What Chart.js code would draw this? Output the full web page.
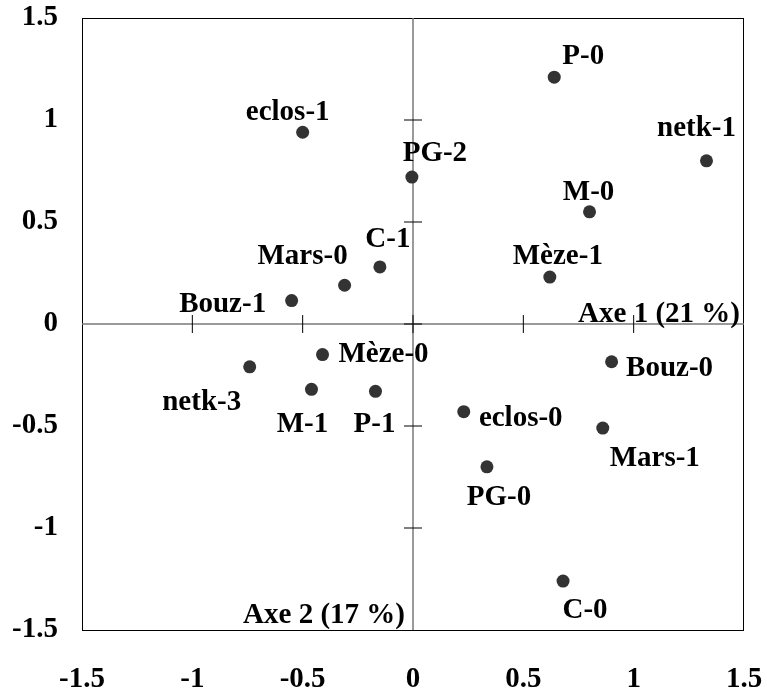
<!DOCTYPE html>
<html>
<head>
<meta charset="utf-8">
<script src="https://cdn.jsdelivr.net/npm/chart.js@4.4.0/dist/chart.umd.min.js"></script>
<style>
  html, body { margin: 0; padding: 0; background: #fff; }
</style>
</head>
<body>
<canvas id="acp" width="767" height="691"></canvas>
<script>
var noms = ['P-0', 'netk-1', 'eclos-1', 'PG-2', 'M-0', 'C-1', 'Mars-0', 'Mèze-1', 'Bouz-1',
            'netk-3', 'Mèze-0', 'M-1', 'P-1', 'Bouz-0', 'eclos-0', 'Mars-1', 'PG-0', 'C-0'];
var axe1 = [0.64, 1.33, -0.50, -0.005, 0.80, -0.15, -0.31, 0.62, -0.55,
            -0.74, -0.41, -0.46, -0.17, 0.90, 0.23, 0.86, 0.335, 0.68];
var axe2 = [1.21, 0.80, 0.94, 0.72, 0.55, 0.28, 0.19, 0.23, 0.115,
            -0.21, -0.15, -0.32, -0.33, -0.185, -0.43, -0.51, -0.70, -1.26];
var graduations = [-1.5, -1, -0.5, 0, 0.5, 1, 1.5];
var titreAxe1 = 'Axe 1 (21 %)';
var titreAxe2 = 'Axe 2 (17 %)';

// placement des etiquettes : decalage en px depuis le point (centre du texte, ligne de base)
var decalages = {
  'P-0': [29, -13], 'netk-1': [-10, -25], 'eclos-1': [-15, -12], 'PG-2': [23, -16],
  'M-0': [-1, -12], 'C-1': [8, -20], 'Mars-0': [-42, -21], 'Mèze-1': [8, -13],
  'Bouz-1': [-69, 11], 'netk-3': [-48, 43], 'Mèze-0': [61, 7], 'M-1': [-9, 43],
  'P-1': [-1, 41], 'Bouz-0': [58, 14], 'eclos-0': [57, 14], 'Mars-1': [52, 38],
  'PG-0': [12, 38], 'C-0': [22, 37]
};

var police = 'bold 29px "Liberation Serif", "Times New Roman", serif';
var policeTicks = { family: '"Liberation Serif", serif', size: 29, weight: 'bold' };

var points = axe1.map(function (v, i) { return { x: v, y: axe2[i] }; });

var axesCentraux = {
  id: 'axesCentraux',
  beforeDatasetsDraw: function (chart) {
    var ctx = chart.ctx, a = chart.chartArea;
    var sx = chart.scales.x, sy = chart.scales.y;
    var x0 = sx.getPixelForValue(0), y0 = sy.getPixelForValue(0);
    ctx.save();
    // cadre
    ctx.strokeStyle = '#000';
    ctx.lineWidth = 1;
    ctx.strokeRect(a.left + 0.5, a.top + 0.5, a.right - a.left - 1, a.bottom - a.top);
    // axes passant par 0
    ctx.strokeStyle = '#7a7a7a';
    ctx.lineWidth = 1.5;
    ctx.beginPath();
    ctx.moveTo(a.left, y0); ctx.lineTo(a.right, y0);
    ctx.moveTo(x0, a.top); ctx.lineTo(x0, a.bottom);
    ctx.stroke();
    // graduations
    ctx.strokeStyle = '#000';
    ctx.lineWidth = 1;
    ctx.beginPath();
    graduations.forEach(function (g) {
      if (Math.abs(g) >= 1.5) return;
      var px = sx.getPixelForValue(g), py = sy.getPixelForValue(g);
      ctx.moveTo(px, y0 - 9); ctx.lineTo(px, y0 + 9);
      ctx.moveTo(x0 - 9, py); ctx.lineTo(x0 + 9, py);
    });
    ctx.stroke();
    // titres des axes
    ctx.font = police;
    ctx.fillStyle = '#000';
    ctx.textBaseline = 'alphabetic';
    ctx.textAlign = 'right';
    ctx.fillText(titreAxe1, a.right - 4, y0 - 2);
    ctx.fillText(titreAxe2, x0 - 8, a.bottom - 7);
    ctx.restore();
  },
  afterDatasetsDraw: function (chart) {
    var ctx = chart.ctx;
    var meta = chart.getDatasetMeta(0);
    ctx.save();
    ctx.font = police;
    ctx.fillStyle = '#000';
    ctx.textAlign = 'center';
    ctx.textBaseline = 'alphabetic';
    meta.data.forEach(function (el, i) {
      var d = decalages[noms[i]] || [0, -12];
      ctx.fillText(noms[i], el.x + d[0], el.y + d[1]);
    });
    ctx.restore();
  }
};

function fixerGraduations(s) {
  s.ticks = graduations.map(function (v) { return { value: v }; });
}
function texteGraduation(v) { return String(v); }

var ctx = document.getElementById('acp').getContext('2d');
var graphe = new Chart(ctx, {
  type: 'scatter',
  data: {
    labels: noms,
    datasets: [{
      data: points,
      backgroundColor: '#333333',
      borderWidth: 0,
      pointRadius: 6.5,
      pointHoverRadius: 6.5
    }]
  },
  options: {
    responsive: false,
    devicePixelRatio: 1,
    animation: false,
    layout: { padding: { left: 0, right: 23, top: 18, bottom: 0 } },
    plugins: {
      legend: { display: false },
      tooltip: { enabled: false }
    },
    scales: {
      x: {
        type: 'linear',
        min: -1.5,
        max: 1.5,
        afterBuildTicks: fixerGraduations,
        afterFit: function (s) { s.height = 61; s.paddingLeft = 0; s.paddingRight = 0; },
        grid: { display: false, drawTicks: false },
        border: { display: false },
        ticks: { color: '#000', font: policeTicks, padding: 32, maxRotation: 0, callback: texteGraduation }
      },
      y: {
        type: 'linear',
        min: -1.5,
        max: 1.5,
        afterBuildTicks: fixerGraduations,
        afterFit: function (s) { s.width = 82; s.paddingTop = 0; s.paddingBottom = 0; },
        grid: { display: false, drawTicks: false },
        border: { display: false },
        ticks: { color: '#000', font: policeTicks, padding: 24, callback: texteGraduation }
      }
    }
  },
  plugins: [axesCentraux]
});
</script>
</body>
</html>
